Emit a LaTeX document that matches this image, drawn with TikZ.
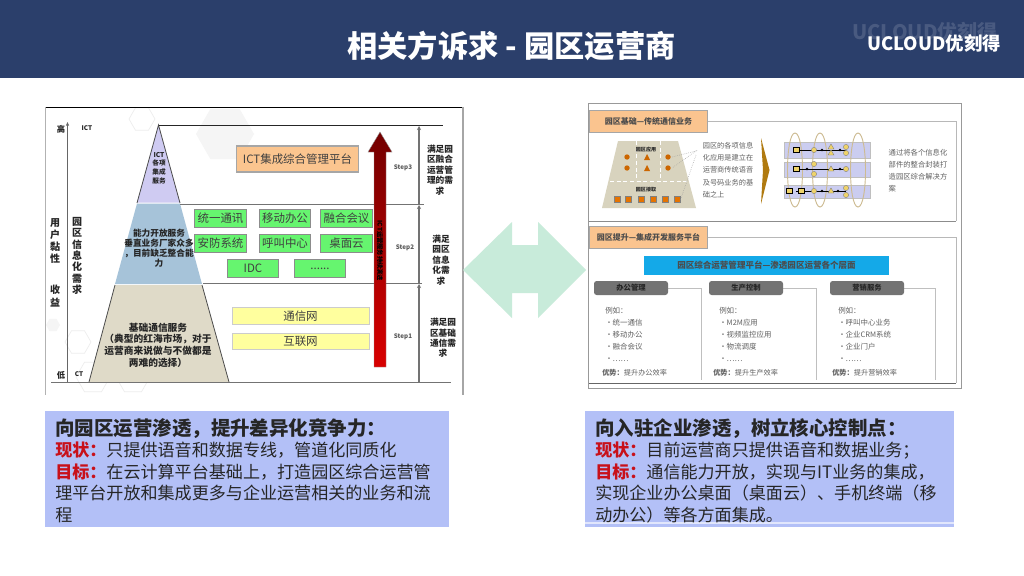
\documentclass[tikz,border=0pt]{standalone}
\usepackage{fontspec}
\setmainfont{Noto Sans CJK SC}
\usetikzlibrary{arrows.meta}
\definecolor{hdr}{HTML}{2B3F6B}
\definecolor{bluebox}{HTML}{B3C0F7}
\definecolor{redtxt}{HTML}{C8101A}
\definecolor{mint}{HTML}{C8EBDA}
\definecolor{pgreen}{HTML}{66F56F}
\definecolor{pyellow}{HTML}{FFFF9E}
\definecolor{porange}{HTML}{FBC58F}
\definecolor{tpl}{HTML}{FAC48F}
\definecolor{pyb}{HTML}{A6C3D9}
\definecolor{pyt}{HTML}{DFDAC8}
\definecolor{pyp}{HTML}{CFCBF2}
\definecolor{trap}{HTML}{D8D3BE}
\definecolor{lane}{HTML}{CBCDF0}
\definecolor{gold}{HTML}{B07A10}
\definecolor{tan}{HTML}{CDBB92}
\definecolor{ban}{HTML}{14A9E8}
\definecolor{item}{HTML}{EFD36A}
\tikzset{
 x=0.75pt,y=-0.75pt,
 lab/.style={inner sep=0pt,align=center,font=\fontsize{6.2}{7.2}\selectfont\bfseries,text=black!85},
 gbox/.style={draw=black!45,line width=.7pt,fill=pgreen,inner sep=0pt,minimum width=38.5pt,minimum height=13.5pt,text=black!75,font=\fontsize{8.6}{10}\selectfont},
 ybox/.style={draw=black!20,line width=.7pt,fill=pyellow,inner sep=0pt,minimum width=102.7pt,minimum height=12.4pt,text=black!75,font=\fontsize{8.6}{10}\selectfont},
 tab/.style={fill=tpl,draw=black!35,line width=.6pt,inner sep=0pt,minimum width=89pt,minimum height=16.5pt,font=\fontsize{6}{7}\selectfont\bfseries,text=black!70},
 gtab/.style={fill=black!55,rounded corners=2pt,inner sep=0pt,minimum width=55.5pt,minimum height=10.5pt,font=\fontsize{5.5}{6.5}\selectfont\bfseries,text=black!85},
 faint/.style={inner sep=0pt,align=left,font=\fontsize{5.6}{8.9}\selectfont,text=black!62},
 body/.style={inner sep=0pt,align=left,anchor=north west,font=\fontsize{12.8}{16.1}\selectfont,text=black!85},
 head/.style={},
 ln/.style={draw=black!85,line width=.8pt},
 gl/.style={draw=black!55,line width=.9pt},
 stp/.style={inner sep=0pt,font=\fontsize{4.7}{6}\selectfont\bfseries,text=black!65},
 need/.style={inner sep=0pt,align=center,font=\fontsize{6.5}{7.8}\selectfont\bfseries,text=black!85},
 hexf/.style={fill=black!4},
 hexo/.style={draw=black!7,line width=.5pt},
}
\newcommand{\rtx}[1]{{\color{redtxt}\bfseries #1}}
\newcommand{\hd}[1]{{\bfseries\fontsize{14.6}{16.1}\selectfont #1}}
\newcommand{\hexa}[4]{\path[#1] (#2-#4,#3) -- (#2-#4/2,#3-#4*.87) -- (#2+#4/2,#3-#4*.87) -- (#2+#4,#3) -- (#2+#4/2,#3+#4*.87) -- (#2-#4/2,#3+#4*.87) -- cycle;}
\begin{document}
\begin{tikzpicture}
\useasboundingbox (0,0) rectangle (1024,575);
\fill[white] (0,0) rectangle (1024,575);
\fill[hdr] (0,0) rectangle (1024,78);
\node[inner sep=0pt,text=white,font=\fontsize{22.7}{26}\selectfont\bfseries] (title) at (511.5,46) {相关方诉求 - 园区运营商};
\node[inner sep=0pt,text=white!14!hdr,font=\fontsize{15}{17}\selectfont\bfseries] (wm) at (925,32) {UCLOUD优刻得};
\node[inner sep=0pt,text=white,font=\fontsize{13.8}{15}\selectfont\bfseries] (logo) at (934,43.5) {UCLOUD优刻得};

% left picture
\hexa{hexf}{225}{134}{29}
\hexa{hexo}{142}{119}{13}
\hexa{hexf}{53}{325}{7}
\hexa{hexo}{78}{342}{13}
\hexa{hexo}{93}{377}{17}
\hexa{hexo}{133}{377}{17}
\draw[black,line width=1pt] (45,107.5) -- (464,107.5);
\draw[black!30,line width=.6pt] (45.5,107) -- (45.5,395);
\draw[black!35,line width=.8pt] (463,107) -- (463,395);
% pyramid
\fill[pyp] (158.5,125) -- (180,202.5) -- (137,202.5) -- cycle;
\fill[pyb] (137,203.5) -- (180,203.5) -- (202,284) -- (115,284) -- cycle;
\fill[pyt] (115,285) -- (202,285) -- (229,382) -- (89,382) -- cycle;
\draw[black!70,line width=.6pt] (137,203) -- (158.5,125) -- (180,203);
\draw[black!70,line width=.6pt] (89,382) -- (115,285);
\draw[black!70,line width=.6pt] (202,285) -- (229,382);
% axes
\coordinate (axb) at (67.5,382);
\coordinate (axt) at (67.5,122);
\draw[black!60,line width=.6pt,-{Stealth[length=3pt,width=2.5pt]}] (axb) -- (axt);
\draw[ln] (158.5,125.5) -- (443,125.5);
\draw[gl] (180,204.5) -- (424,204.5);
\draw[gl] (203,283.5) -- (422,283.5);
\draw[gl] (51,382.5) -- (451,382.5);
\coordinate (a0) at (419,382);\coordinate (a1) at (419,284);\coordinate (a2) at (419,205);\coordinate (a3) at (419,126);
\draw[black!55,line width=.9pt,-{Stealth[length=3pt,width=3pt]}] (a0) -- (a1);
\draw[black!55,line width=.9pt,-{Stealth[length=3pt,width=3pt]}] (a1) -- (a2);
\draw[black!55,line width=.9pt,-{Stealth[length=3pt,width=3pt]}] (a2) -- (a3);
% left texts
\node[lab] (hi) at (61,129) {高};
\node[lab] (lo) at (61,375) {低};
\node[lab,font=\fontsize{4.8}{6}\selectfont\bfseries] (ict) at (87,128) {ICT};
\node[lab,font=\fontsize{4.8}{6}\selectfont\bfseries] (ct) at (79,374) {CT};
\node[lab,font=\fontsize{7.5}{9.2}\selectfont\bfseries] (u1) at (55,241) {用\\户\\黏\\性};
\node[lab,font=\fontsize{7.5}{9.2}\selectfont\bfseries] (u2) at (55,296) {收\\益};
\node[lab,font=\fontsize{7.5}{8.5}\selectfont\bfseries] (u3) at (77,256) {园\\区\\信\\息\\化\\需\\求};
\node[lab,font=\fontsize{5}{6.4}\selectfont\bfseries] (p1) at (159,168) {ICT\\各项\\集成\\服务};
\node[lab,font=\fontsize{6.5}{7.6}\selectfont\bfseries] (p2) at (159,248) {能力开放服务\\垂直业务厂家众多\\，目前缺乏整合能\\力};
\node[lab,font=\fontsize{7.3}{8.7}\selectfont\bfseries] (p3) at (158,345) {基础通信服务\\（典型的红海市场，对于\\运营商来说做与不做都是\\两难的选择）};
% boxes
\node[draw=black!35,line width=.8pt,fill=porange,minimum width=92pt,minimum height=19.5pt,inner sep=0pt,text=black!75,font=\fontsize{8.6}{10}\selectfont] (b0) at (297.5,159) {ICT集成综合管理平台};
\node[gbox] (g1) at (220.5,218) {统一通讯};
\node[gbox] (g2) at (285,218) {移动办公};
\node[gbox] (g3) at (346.5,218) {融合会议};
\node[gbox] (g4) at (220.5,243) {安防系统};
\node[gbox] (g5) at (285,243) {呼叫中心};
\node[gbox] (g6) at (346.5,243) {桌面云};
\node[gbox] (g7) at (253,268.5) {IDC};
\node[gbox] (g8) at (320,268.5) {......};
\node[ybox] (y1) at (300.5,316) {通信网};
\node[ybox] (y2) at (300.5,341.5) {互联网};
% red arrow
\shade[bottom color=red!85!black,top color=red!45!black] (374,367) -- (386,367) -- (386,152) -- (392,152) -- (380,132) -- (368,152) -- (374,152) -- cycle;
\draw[black!40,line width=.3pt] (374,367) -- (386,367) -- (386,152) -- (392,152) -- (380,132) -- (368,152) -- (374,152) -- cycle;
\node[lab,rotate=-90,text=black,font=\fontsize{4.7}{5}\selectfont\bfseries] (arrowt) at (380,251) {ICT运营服务持续演进};
% steps
\node[stp] (s3) at (403,168) {Step3};
\node[stp] (s2) at (405,248) {Step2};
\node[stp] (s1) at (403,337) {Step1};
\node[need] (r3) at (440,170) {满足园\\区融合\\运营管\\理的需\\求};
\node[need] (r2) at (441,260) {满足\\园区\\信息\\化需\\求};
\node[need] (r1) at (443,338) {满足园\\区基础\\通信需\\求};

% double arrow
\fill[mint] (463,270) -- (512,222) -- (512,245) -- (538,245) -- (538,222) -- (586,270) -- (538,318) -- (538,293) -- (512,293) -- (512,318) -- cycle;

% right picture
\draw[black!40,line width=.7pt] (588.5,103.5) rectangle (961.5,388);
\draw[black!45,line width=1pt] (589,221.5) -- (956,221.5);
\draw[black!28,line width=.7pt] (590,121) -- (956,121) -- (956,221);
\draw[black!28,line width=.7pt] (590,237.5) -- (956,237.5) -- (956,383);
\draw[black!60,line width=.9pt] (589,383.5) -- (956,383.5);
\node[tab] (t1) at (648.5,121.5) {园区基础—传统通信业务};
\node[tab] (t2) at (648.5,237) {园区提升—集成开发服务平台};
% trapezoid
\fill[trap] (618,141) -- (678,141) -- (696,208) -- (602,208) -- cycle;
\draw[white,densely dashed,line width=.3pt] (610,181) -- (688,181);
\draw[white,densely dashed,line width=.3pt] (636,141) -- (636,181);
\draw[white,densely dashed,line width=.3pt] (660,141) -- (660,181);
\node[lab,font=\fontsize{3.8}{4.5}\selectfont\bfseries] (ta) at (646,150) {园区应用};
\node[lab,font=\fontsize{3.8}{4.5}\selectfont\bfseries] (tb) at (646,190) {园区接取};
\foreach \x/\y in {627/157,627/168,668/157,668/168}{\fill[orange!80!black] (\x,\y) circle (2.7);}
\foreach \y in {157,168}{\fill[orange!80!black] (647,\y-3) -- (650,\y+3) -- (644,\y+3) -- cycle;}
\foreach \x in {617,628,641,653,665,677}{\fill[orange!90!black,draw=black!50,line width=.3pt] (\x-2.7,196) rectangle (\x+2.7,202);}
\draw[black!40,densely dotted,line width=.4pt] (672,157) -- (696,151) -- (672,168);
\draw[black!40,densely dotted,line width=.4pt] (696,155) -- (679,204);
\node[faint,font=\fontsize{5.4}{9.2}\selectfont] (tx1) at (728,170) {园区的各项信息\\化应用是建立在\\运营商传统语音\\及号码业务的基\\础之上};
\fill[gold] (761,138) -- (769.5,170) -- (761,204) -- (763,170) -- cycle;
% small flow
\foreach \y/\h in {142/16,162/15,185/13}{\fill[lane,draw=black!25,line width=.3pt] (784,\y) rectangle (870,\y+\h);}
\foreach \x in {795,820,858}{\draw[tan,line width=.7pt] (\x,133) .. controls (\x+10,133) and (\x+10,207) .. (\x,207) .. controls (\x-10,207) and (\x-10,133) .. (\x,133);}
\foreach \y in {150,169,191}{\draw[black,line width=.6pt] (796,\y) -- (846,\y);}
\foreach \x/\y in {796/150,796/169,789/191,801/191}{\fill[item,draw=black,line width=.3pt] (\x-3,\y-2.5) rectangle (\x+3,\y+2.5);}
\foreach \x/\y in {814/150,814/164,814/174,814/191,846/147,846/153,846/169,846/188,846/195}{\fill[item,draw=black!50,line width=.3pt] (\x,\y) circle (2.6);}
\foreach \x/\y in {831/147,831/153,831/169,831/191}{\fill[item,draw=black!50,line width=.3pt] (\x,\y-3) -- (\x+3,\y+2) -- (\x-3,\y+2) -- cycle;}
\foreach \x/\y in {822/150,840/150,807/169,840/169,822/191,838/191}{\fill[black] (\x,\y) circle (1.4);}
\node[faint,font=\fontsize{5.5}{9}\selectfont] (tx2) at (918,171) {通过将各个信息化\\部件的整合封装打\\造园区综合解决方\\案};
% blue banner
\node[fill=ban,inner sep=0pt,minimum width=184pt,minimum height=14.5pt,font=\fontsize{6.4}{7}\selectfont\bfseries,text=black!70] (banner) at (766.5,265.5) {园区综合运营管理平台—渗透园区运营各个层面};
\draw[black!25,line width=.5pt] (631,288) -- (701,288) -- (701,380);
\draw[black!25,line width=.5pt] (746,288) -- (816,288) -- (816,380);
\draw[black!25,line width=.5pt] (867,288) -- (935,288) -- (935,380);
\node[gtab] (o1) at (631,288) {办公管理};
\node[gtab] (o2) at (746,288) {生产控制};
\node[gtab] (o3) at (867,288) {营销服务};
\node[faint,anchor=north west] (c1) at (605,307) {例如：\\•统一通信\\•移动办公\\•融合会议\\•……};
\node[faint,anchor=north west] (c2) at (719,307) {例如：\\•M2M应用\\•视频监控应用\\•物流调度\\•……};
\node[faint,anchor=north west] (c3) at (838,307) {例如：\\•呼叫中心业务\\•企业CRM系统\\•企业门户\\•……};
\node[faint,anchor=west,font=\fontsize{5.4}{6}\selectfont] (d1) at (602,373) {\textbf{优势：}提升办公效率};
\node[faint,anchor=west,font=\fontsize{5.4}{6}\selectfont] (d2) at (713,373) {\textbf{优势：}提升生产效率};
\node[faint,anchor=west,font=\fontsize{5.4}{6}\selectfont] (d3) at (832,373) {\textbf{优势：}提升营销效率};

% bottom boxes
\fill[bluebox] (45,411) rectangle (449,527);
\fill[bluebox] (585,411) rectangle (954,527);
\draw[white!60!bluebox,line width=.8pt] (585,523) -- (954,523);
\node[body] (lt) at (55,418) {\hd{向园区运营渗透，提升差异化竞争力：}\\\rtx{现状：}只提供语音和数据专线，管道化同质化\\\rtx{目标：}在云计算平台基础上，打造园区综合运营管\\理平台开放和集成更多与企业运营相关的业务和流\\程};
\node[body] (rtb) at (595,418) {\hd{向入驻企业渗透，树立核心控制点：}\\\rtx{现状：}目前运营商只提供语音和数据业务；\\\rtx{目标：}通信能力开放，实现与IT业务的集成，\\实现企业办公桌面（桌面云）、手机终端（移\\动办公）等各方面集成。};
\end{tikzpicture}
\end{document}
